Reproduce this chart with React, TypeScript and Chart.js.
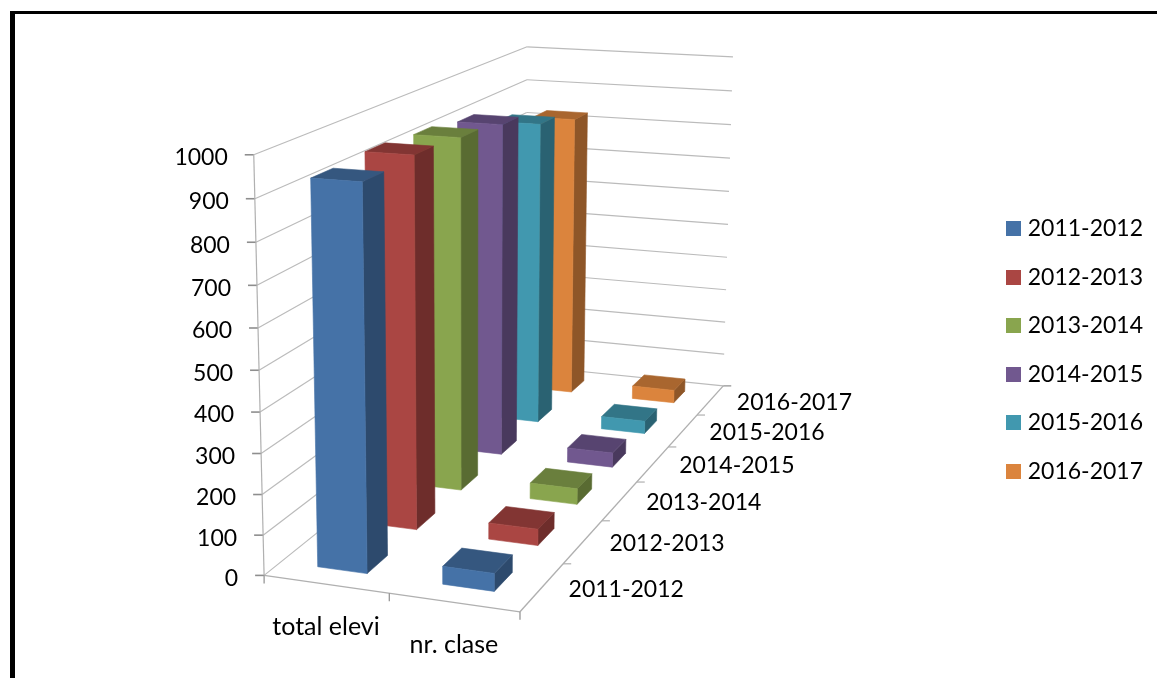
import React, { useEffect, useRef } from "react";
import { Chart, registerables } from "chart.js";

Chart.register(...registerables);

const categories = ["total elevi", "nr. clase"];
const years = ["2011-2012", "2012-2013", "2013-2014", "2014-2015", "2015-2016", "2016-2017"];
const totalElevi = [936, 942, 931, 913, 863, 826];
const nrClase = [44, 42, 42, 40, 36, 38];
const seriesValues = years.map((_, i) => [totalElevi[i], nrClase[i]]);
const frontColors = ["#4572A7", "#AA4643", "#89A54E", "#71588F", "#4198AF", "#DB843D"];
const sideColors = ["#2D4A6D", "#6E2D2B", "#596B32", "#49395D", "#2A6272", "#8E5628"];
const topColors = ["#35577F", "#823533", "#6A7F3D", "#574470", "#327587", "#A9662F"];

const FONT = "Lato, 'Open Sans', sans-serif";
const BAR_FRACTION = 0.4;

// Camera calibration: unit-box corners (x, value, depth) -> picture position of the plot box.
const calibration: number[][] = [
  [0, 0, 0, 264, 575],
  [1, 0, 0, 520, 611.5],
  [0, 1, 0, 253, 155],
  [0, 0.9, 0, 255, 198.5],
  [0, 0.8, 0, 256, 242],
  [0, 0.7, 0, 257, 285],
  [0, 0.5, 0, 259.5, 371],
  [0, 0, 1, 525, 366],
  [1, 0, 1, 723, 386],
  [0, 1, 1, 527, 47],
  [0, 0.9, 1, 527, 80],
  [0, 0.8, 1, 527, 112],
  [1, 1, 1, 733, 57],
  [1, 0.9, 1, 732, 91],
  [1, 0.8, 1, 731, 125],
  [1, 0.7, 1, 730, 158],
  [1, 0.5, 1, 728, 224],
  [1, 0.3, 1, 726, 289],
  [1, 0, 0.5, 637, 483],
];

function solve(A: number[][], b: number[]): number[] {
  const n = b.length;
  const M = A.map((r, i) => [...r, b[i]]);
  for (let c = 0; c < n; c++) {
    let piv = c;
    for (let r = c + 1; r < n; r++) if (Math.abs(M[r][c]) > Math.abs(M[piv][c])) piv = r;
    [M[c], M[piv]] = [M[piv], M[c]];
    for (let r = 0; r < n; r++) {
      if (r === c) continue;
      const f = M[r][c] / M[c][c];
      for (let k = c; k <= n; k++) M[r][k] -= f * M[c][k];
    }
  }
  return M.map((r, i) => r[n] / r[i]);
}

function fitCamera(): number[] {
  const A: number[][] = Array.from({ length: 11 }, () => new Array(11).fill(0));
  const b: number[] = new Array(11).fill(0);
  const add = (row: number[], rhs: number) => {
    for (let i = 0; i < 11; i++) {
      b[i] += row[i] * rhs;
      for (let j = 0; j < 11; j++) A[i][j] += row[i] * row[j];
    }
  };
  for (const [X, Y, Z, px, py] of calibration) {
    const x = px / 1000;
    const y = py / 1000;
    add([X, Y, Z, 1, 0, 0, 0, 0, -x * X, -x * Y, -x * Z], x);
    add([0, 0, 0, 0, X, Y, Z, 1, -y * X, -y * Y, -y * Z], y);
  }
  return solve(A, b);
}

const cam = fitCamera();
function project(u: number, v: number, w: number): [number, number] {
  const d = cam[8] * u + cam[9] * v + cam[10] * w + 1;
  return [
    (1000 * (cam[0] * u + cam[1] * v + cam[2] * w + cam[3])) / d,
    (1000 * (cam[4] * u + cam[5] * v + cam[6] * w + cam[7])) / d,
  ];
}

function swatch(color: string): HTMLCanvasElement {
  const c = document.createElement("canvas");
  c.width = 15;
  c.height = 15;
  const g = c.getContext("2d") as CanvasRenderingContext2D;
  g.fillStyle = color;
  g.fillRect(0, 0, 15, 15);
  return c;
}

const plot3d = {
  id: "plot3d",
  beforeDatasetsDraw(chart: any) {
    const { ctx, chartArea: a, scales } = chart;
    const xs = scales.x;
    const ys = scales.y;
    const zs = scales.z;
    const U = (i: number) => (xs.getPixelForValue(i) - a.left) / a.width;
    const V = (val: number) => (a.bottom - ys.getPixelForValue(val)) / a.height;
    const W = (i: number) => (zs.getPixelForValue(i) - a.left) / a.width;
    const uStep = 1 / categories.length;
    const wStep = 1 / years.length;

    const seg = (p: [number, number], q: [number, number], color: string, width: number) => {
      ctx.beginPath();
      ctx.moveTo(p[0], p[1]);
      ctx.lineTo(q[0], q[1]);
      ctx.strokeStyle = color;
      ctx.lineWidth = width;
      ctx.stroke();
    };
    const quad = (pts: [number, number][], color: string) => {
      ctx.beginPath();
      pts.forEach((p, i) => (i ? ctx.lineTo(p[0], p[1]) : ctx.moveTo(p[0], p[1])));
      ctx.closePath();
      ctx.fillStyle = color;
      ctx.strokeStyle = color;
      ctx.lineWidth = 0.6;
      ctx.fill();
      ctx.stroke();
    };

    ctx.save();
    const GRID = "#BBBBBB";
    const AXIS = "#B0B0B0";
    const TICK = "#8E8E8E";
    ctx.lineCap = "butt";

    // walls
    for (const t of ys.ticks) {
      const v = V(t.value);
      const front = project(0, v, 0);
      const corner = project(0, v, 1);
      const right = project(1, v, 1);
      seg(front, corner, GRID, 1.2);
      seg(corner, right, GRID, 1.2);
      seg(front, [front[0] - 9, front[1]], TICK, 1.6);
    }
    // axes and floor
    seg(project(0, 0, 0), project(0, 1, 0), AXIS, 1.2);
    seg(project(0, 0, 0), project(1, 0, 0), AXIS, 1.4);
    seg(project(1, 0, 0), project(1, 0, 1), AXIS, 1.4);
    for (let i = 0; i <= categories.length; i++) {
      const p = project(i * uStep, 0, 0);
      seg(p, [p[0], p[1] + 8], TICK, 1.2);
    }
    for (let i = 1; i <= years.length; i++) {
      const p = project(1, 0, i * wStep);
      seg(p, [p[0] + 8, p[1]], i === years.length ? TICK : AXIS, 1.2);
    }

    // bars, back to front
    for (let s = years.length - 1; s >= 0; s--) {
      const wc = W(s);
      const w0 = wc - (wStep * BAR_FRACTION) / 2;
      const w1 = wc + (wStep * BAR_FRACTION) / 2;
      const data = chart.data.datasets[s].data;
      for (let c = categories.length - 1; c >= 0; c--) {
        const uc = U(c);
        const u0 = uc - (uStep * BAR_FRACTION) / 2;
        const u1 = uc + (uStep * BAR_FRACTION) / 2;
        const v = V(data[c]);
        quad([project(u1, 0, w0), project(u1, 0, w1), project(u1, v, w1), project(u1, v, w0)], sideColors[s]);
        quad([project(u0, v, w0), project(u1, v, w0), project(u1, v, w1), project(u0, v, w1)], topColors[s]);
        quad([project(u0, 0, w0), project(u1, 0, w0), project(u1, v, w0), project(u0, v, w0)], frontColors[s]);
      }
    }

    // text
    ctx.fillStyle = "#000";
    ctx.font = `23px ${FONT}`;
    ctx.textBaseline = "middle";
    ctx.textAlign = "right";
    for (const t of ys.ticks) {
      const p = project(0, V(t.value), 0);
      ctx.fillText(String(t.value), p[0] - 26, p[1] + 3);
    }
    ctx.textAlign = "center";
    years.forEach((label, i) => {
      const p = project(1, 0, W(i));
      ctx.fillText(label, p[0] + 84, p[1] + 2);
    });
    ctx.font = `25px ${FONT}`;
    categories.forEach((label, i) => {
      const p = project(U(i), 0, 0);
      ctx.fillText(label, p[0], p[1] + 43);
    });
    ctx.restore();
    return false;
  },
};

export default function App() {
  const ref = useRef<HTMLCanvasElement | null>(null);
  useEffect(() => {
    document.body.style.margin = "0";
    const chart = new Chart(ref.current as HTMLCanvasElement, {
      type: "bar",
      data: {
        labels: categories,
        datasets: years.map((y, i) => ({
          label: y,
          data: seriesValues[i],
          backgroundColor: frontColors[i],
          borderWidth: 0,
        })),
      },
      options: {
        responsive: false,
        animation: false,
        events: [],
        layout: { padding: { top: 22, right: 4, left: 0, bottom: 0 } },
        scales: {
          x: { type: "category", display: false },
          y: { type: "linear", min: 0, max: 1000, ticks: { stepSize: 100 }, display: false },
          z: { type: "category", axis: "x", labels: years, offset: true, display: false },
        },
        plugins: {
          tooltip: { enabled: false },
          title: { display: false },
          legend: {
            position: "right",
            labels: {
              usePointStyle: true,
              pointStyleWidth: 6,
              boxHeight: 15,
              padding: 25.45,
              color: "#000",
              font: { family: FONT, size: 23 },
              generateLabels: () =>
                years.map((y, i) => ({
                  text: y,
                  datasetIndex: i,
                  fillStyle: frontColors[i],
                  strokeStyle: frontColors[i],
                  lineWidth: 0,
                  fontColor: "#000",
                  pointStyle: swatch(frontColors[i]),
                })),
            },
          },
        },
      },
      plugins: [plot3d],
    } as any);
    return () => chart.destroy();
  }, []);
  return (
    <div style={{ position: "relative", width: 1157, height: 678, overflow: "hidden", background: "#fff" }}>
      <div
        style={{
          position: "absolute",
          left: 10,
          top: 11,
          right: 0,
          bottom: 0,
          borderLeft: "5px solid #000",
          borderTop: "3px solid #000",
        }}
      />
      <canvas ref={ref} width={1157} height={678} style={{ position: "absolute", left: 0, top: 0, display: "block" }} />
    </div>
  );
}
